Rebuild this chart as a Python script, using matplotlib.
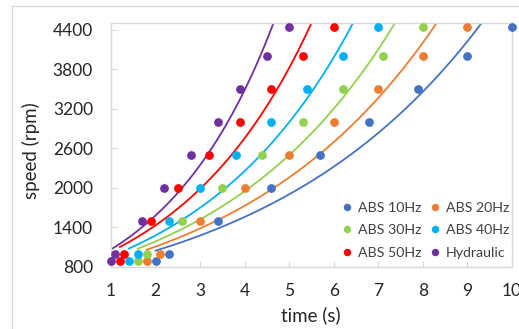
import matplotlib
matplotlib.use("Agg")
import matplotlib.pyplot as plt
import numpy as np

# speed levels (rpm) shared by all series
speed = [880, 1000, 1500, 2000, 2500, 3000, 3500, 4000, 4450]

t_abs10 = [2.0, 2.3, 3.4, 4.6, 5.7, 6.8, 7.9, 9.0, 10.0]
t_abs20 = [1.8, 2.1, 3.0, 4.0, 5.0, 6.0, 7.0, 8.0, 9.0]
t_abs30 = [1.6, 1.8, 2.6, 3.5, 4.4, 5.3, 6.2, 7.1, 8.0]
t_abs40 = [1.4, 1.6, 2.3, 3.0, 3.8, 4.6, 5.4, 6.2, 7.0]
t_abs50 = [1.2, 1.3, 1.9, 2.5, 3.2, 3.9, 4.6, 5.3, 6.0]
t_hydr = [1.0, 1.1, 1.7, 2.2, 2.8, 3.4, 3.9, 4.5, 5.0]

names = ['ABS 10Hz', 'ABS 20Hz', 'ABS 30Hz', 'ABS 40Hz', 'ABS 50Hz', 'Hydraulic']
colors = ['#4472C4', '#ED7D31', '#92D050', '#00B0F0', '#FF0000', '#7030A0']
series = [t_abs10, t_abs20, t_abs30, t_abs40, t_abs50, t_hydr]

plt.rcParams['font.family'] = ['Lato', 'DejaVu Sans']

fig = plt.figure(figsize=(5.19, 3.29), dpi=100)
ax = fig.add_axes([111/519, 1-266.7/329, (512-111)/519, (266.7-23.3)/329])

# chart area border
fig.patches.append(plt.Rectangle((12/519, -0.1), 1.2, (329-6)/329 + 0.1,
                                 transform=fig.transFigure, fill=False,
                                 edgecolor='#d9d9d9', linewidth=1))

handles = []
y = np.array(speed, dtype=float)
for t, c, n in zip(series, colors, names):
    t = np.array(t)
    # exponential trendline, like Excel
    b, lna = np.polyfit(t, np.log(y), 1)
    xx = np.linspace(t.min(), 10.5, 200)
    ax.plot(xx, np.exp(lna) * np.exp(b * xx), color=c, linewidth=1.3, zorder=2)
    h, = ax.plot(t, y, 'o', color=c, markersize=6.3, markeredgewidth=0,
                 label=n, zorder=3, clip_on=False)
    handles.append(h)

ax.set_xlim(1, 10)
ax.set_ylim(800, 4500)
ax.set_xticks(range(1, 11))
ax.set_yticks(range(800, 4401, 600))
ax.tick_params(direction='in', length=4, color='#d9d9d9', labelsize=12.5,
               labelcolor='#262626')
ax.tick_params(axis='x', pad=12)
ax.tick_params(axis='y', pad=13)
for s in ax.spines.values():
    s.set_color('#d9d9d9')
    s.set_linewidth(1)

fig.text(311/519, 1-315/329, 'time (s)', fontsize=13.5, color='#262626',
         ha='center', va='center')
fig.text(31/519, 1-151/329, 'speed (rpm)', fontsize=13.5, color='#262626',
         ha='center', va='center', rotation=90)

order = [0, 2, 4, 1, 3, 5]
ax.legend([handles[i] for i in order], [names[i] for i in order], ncol=2,
          loc='lower right', frameon=False, fontsize=10.2, handlelength=0.8,
          handletextpad=0.35, columnspacing=0.6, labelspacing=0.75,
          markerscale=0.85, bbox_to_anchor=(1.025, -0.02),
          labelcolor='#404040')

fig.savefig('out.png', dpi=100)
